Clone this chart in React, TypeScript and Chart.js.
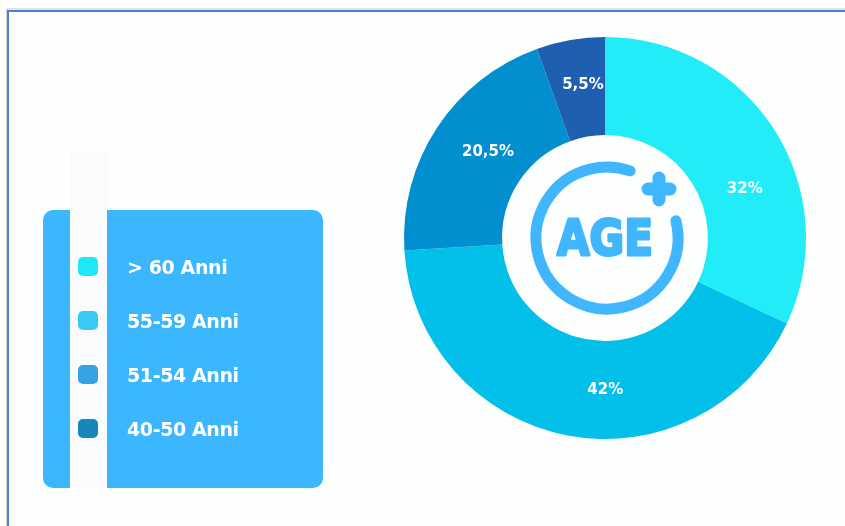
import React, { useEffect, useRef } from "react";
import { Chart, registerables } from "chart.js";

Chart.register(...registerables);

const categories = ["> 60 Anni", "55-59 Anni", "51-54 Anni", "40-50 Anni"];
const values = [32, 42, 20.5, 5.5];
const valueLabels = ["32%", "42%", "20,5%", "5,5%"];
const sliceColors = ["#22ECF8", "#02C0EA", "#028FCF", "#1F5FB0"];
const legendColors = ["#1FE9F5", "#3AC8F5", "#35A2E3", "#1786BB"];

const labelAngleAdjust = [0.23, -0.19, 0.05, 0.03];
const labelRadiusAdjust = [-4, 0, -7, 3];

const labelPlugin = {
  id: "sliceLabels",
  afterDatasetsDraw(chart: any) {
    const meta = chart.getDatasetMeta(0);
    const ctx = chart.ctx;
    ctx.save();
    ctx.fillStyle = "#ffffff";
    ctx.font = "bold 15px 'DejaVu Sans', sans-serif";
    ctx.textAlign = "center";
    ctx.textBaseline = "middle";
    meta.data.forEach((arc: any, i: number) => {
      const p = arc.getProps(["x", "y", "startAngle", "endAngle", "innerRadius", "outerRadius"], true);
      const a = (p.startAngle + p.endAngle) / 2 + labelAngleAdjust[i];
      const r = (p.innerRadius + p.outerRadius) / 2 + labelRadiusAdjust[i];
      ctx.fillText(valueLabels[i], p.x + Math.cos(a) * r, p.y + Math.sin(a) * r);
    });
    ctx.restore();
  },
};

const iconPlugin = {
  id: "ageIcon",
  afterDraw(chart: any) {
    const meta = chart.getDatasetMeta(0);
    const arc = meta.data[0];
    if (!arc) return;
    const cx = arc.x + 2;
    const cy = arc.y;
    const ctx = chart.ctx;
    const col = "#40B6FF";
    ctx.save();
    ctx.strokeStyle = col;
    ctx.fillStyle = col;
    ctx.lineCap = "round";
    ctx.lineWidth = 11;
    ctx.beginPath();
    ctx.arc(cx, cy, 71, (-14 * Math.PI) / 180, (289 * Math.PI) / 180);
    ctx.stroke();
    // plus sign
    const px = cx + 52;
    const py = cy - 49;
    ctx.lineWidth = 13;
    ctx.beginPath();
    ctx.moveTo(px - 11, py);
    ctx.lineTo(px + 11, py);
    ctx.moveTo(px, py - 11);
    ctx.lineTo(px, py + 11);
    ctx.stroke();
    // AGE text
    ctx.font = "bold 50px 'DejaVu Sans', sans-serif";
    ctx.textAlign = "center";
    ctx.textBaseline = "middle";
    const w = ctx.measureText("AGE").width;
    ctx.translate(cx - 2, cy + 4);
    ctx.scale(96 / w, 1);
    ctx.lineJoin = "round";
    ctx.lineWidth = 3;
    ctx.fillText("AGE", 0, 0);
    ctx.strokeText("AGE", 0, 0);
    ctx.restore();
  },
};

export default function App() {
  const ref = useRef<HTMLCanvasElement>(null);
  useEffect(() => {
    if (!ref.current) return;
    const chart = new Chart(ref.current, {
      type: "doughnut",
      data: {
        labels: categories,
        datasets: [
          {
            data: values,
            backgroundColor: sliceColors,
            borderWidth: 0,
          },
        ],
      },
      options: {
        animation: false,
        responsive: false,
        cutout: "51.2%",
        layout: { padding: { left: 404, right: 39, top: 37, bottom: 87 } },
        plugins: { legend: { display: false }, tooltip: { enabled: false } },
      },
      plugins: [labelPlugin, iconPlugin],
    });
    return () => chart.destroy();
  }, []);

  return (
    <div
      style={{
        position: "fixed",
        left: 0,
        top: 0,
        width: 845,
        height: 526,
        background: "#ffffff",
        overflow: "hidden",
        fontFamily: "'DejaVu Sans', sans-serif",
      }}
    >
      <div style={{ position: "absolute", left: 6, top: 8, right: 0, height: 2, background: "#E2E2E2" }} />
      <div style={{ position: "absolute", left: 7, top: 10, right: 0, height: 2, background: "#4F80D8" }} />
      <div style={{ position: "absolute", left: 6, top: 8, width: 1, bottom: 0, background: "#D8D8D8" }} />
      <div style={{ position: "absolute", left: 7, top: 10, width: 2, bottom: 0, background: "#4F80D8" }} />
      <div style={{ position: "absolute", left: 9, top: 12, right: 0, bottom: 0, background: "#FDFEFE" }} />
      <div
        style={{
          position: "absolute",
          left: 43,
          top: 210,
          width: 280,
          height: 278,
          borderRadius: 10,
          background: "#3BB6FF",
        }}
      />
      <div
        style={{
          position: "absolute",
          left: 70,
          top: 152,
          width: 37,
          height: 336,
          background: "#FAFBFC",
        }}
      />
      <canvas ref={ref} width={845} height={526} style={{ position: "absolute", left: 0, top: 0 }} />
      {categories.map((c, i) => (
        <React.Fragment key={c}>
          <div
            style={{
              position: "absolute",
              left: 78,
              top: 257 + i * 54,
              width: 20,
              height: 19,
              borderRadius: 5,
              background: legendColors[i],
            }}
          />
          <div
            style={{
              position: "absolute",
              left: 127,
              top: 254 + i * 54,
              height: 26,
              lineHeight: "26px",
              fontSize: 19,
              fontWeight: "bold",
              color: "#ffffff",
              letterSpacing: "-0.4px",
              whiteSpace: "nowrap",
            }}
          >
            {c}
          </div>
        </React.Fragment>
      ))}
    </div>
  );
}
